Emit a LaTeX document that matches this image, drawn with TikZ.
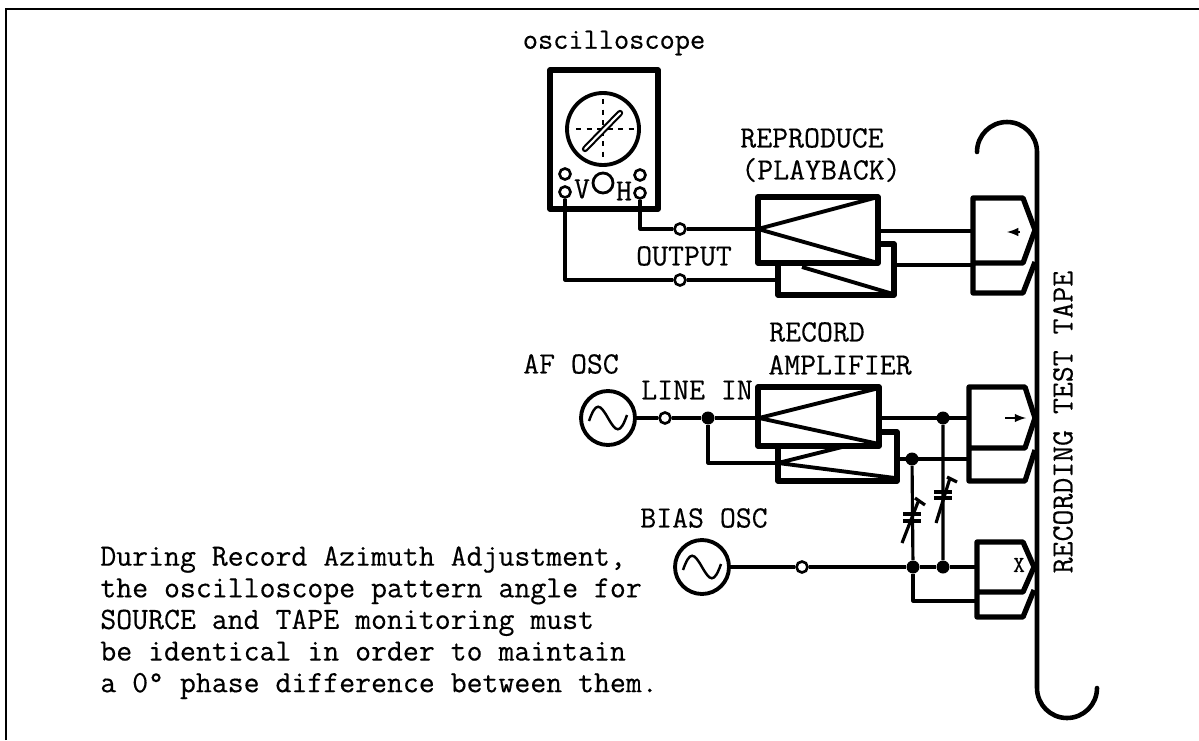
\documentclass[tikz,border=0pt]{standalone}
\usepackage{fontspec}
\setmonofont[FakeBold=.35]{Latin Modern Mono}
\tikzset{
  wire/.style={line width=1.8pt,line join=round},
  heavy/.style={line width=3pt,line join=round},
  term/.style={circle,draw,line width=1.5pt,fill=white,minimum size=.22cm,inner sep=0pt},
  dot/.style={circle,fill=black,minimum size=.26cm,inner sep=0pt},
  src/.style={circle,draw,line width=2.2pt,minimum size=1.08cm,inner sep=0pt},
  lab/.style={font=\fontsize{17.6}{18}\selectfont\ttfamily,inner sep=0pt},
}
\begin{document}
\begin{tikzpicture}[x=.02cm,y=-.02cm]
\useasboundingbox (0,0) rectangle (1199,740);
\draw[line width=1pt] (6,740)--(6,9)--(1199,9);
% oscilloscope
\draw[heavy] (550,70) rectangle (658,209);
\draw[line width=2.2pt] (603,129) circle (36);
\draw[dashed,line width=1pt] (603,99)--(603,159) (576,129)--(638,129);
\draw[line width=3.6pt,line cap=round] (585,149)--(620,113);
\draw[line width=1.2pt,white,line cap=round] (585,149)--(620,113);
\draw[line width=1.6pt] (603,183) circle (10);
\node[term] (sl) at (565,174) {}; \node[term] (vt) at (565,192) {};
\node[term] (sr) at (640,175) {}; \node[term] (ht) at (640,193) {};
\node[lab] (vlab) at (582,189) {V}; \node[lab] (hlab) at (624,191) {H};
\node[lab,font=\fontsize{16.8}{18}\selectfont\ttfamily] (sname) at (614,43) {oscilloscope};
% reproduce amplifier
\coordinate (ra) at (758,229); \coordinate (rb) at (778,280);
\draw[heavy] (878,244)--(894,244)--(894,295)--(778,295)--(778,263);
\draw[line width=2.2pt] (802,267)--(893,294);
\draw[heavy] (758,197) rectangle (878,263);
\draw[line width=2.2pt] (878,197)--(ra)--(878,263);
\node[term] (t1) at (680,229) {}; \node[term] (t2) at (680,280) {};
\draw[wire] (ht)--(640,229)--(t1)--(ra);
\draw[wire] (vt)--(565,280)--(t2)--(rb);
\node[lab] (rep1) at (812,138) {REPRODUCE};
\node[lab] (rep2) at (821,170) {(PLAYBACK)};
\node[lab] (out) at (684,256) {OUTPUT};
% record amplifier
\coordinate (ca) at (759,418); \coordinate (cb) at (778,463);
\draw[heavy] (879,432)--(897,432)--(897,481)--(778,481)--(778,446);
\draw[line width=2.2pt] (850,445)--(cb)--(895,478);
\draw[heavy] (758,387) rectangle (879,446);
\draw[line width=2.2pt] (879,388)--(ca)--(879,444);
\node[lab] (rec1) at (817,332) {RECORD};
\node[lab] (rec2) at (840,365) {AMPLIFIER};
\node[lab] (af) at (571,364) {AF OSC};
\node[lab] (line) at (697,390) {LINE IN};
\node[lab] (bo) at (704,518) {BIAS OSC};
% sources
\node[src] (afs) at (608,418) {};
\node[src] (bos) at (702,567) {};
\foreach \c in {afs,bos}
  \draw[line width=1.4pt] (\c.center) ++(-19,3) .. controls +(7,-20) and +(-8,-14) .. ++(19,-3) .. controls +(8,14) and +(-7,20) .. ++(19,-3);
\node[term] (t3) at (665,418) {}; \node[term] (t4) at (802,567) {};
\node[dot] (d1) at (708,418) {};
\node[dot] (d2) at (912,459) {}; \node[dot] (d3) at (943,418) {};
\node[dot] (d4) at (913,567) {}; \node[dot] (d5) at (943,567) {};
\draw[wire] (afs)--(t3)--(d1)--(ca);
\draw[wire] (d1)--(708,463)--(cb);
\draw[wire] (bos)--(t4)--(d4)--(d5);
% heads
\coordinate (h1) at (973,231); \coordinate (h2) at (973,265);
\coordinate (h3) at (969,418); \coordinate (h4) at (969,459);
\coordinate (h5) at (977,567); \coordinate (h6) at (977,601);
\draw[heavy] (973,263)--(973,198)--(1023,198)--(1035,230)--(1023,263)--(973,263)--(973,293)--(1023,293)--(1035,262);
\draw[heavy] (969,448)--(969,387)--(1025,387)--(1035,418)--(1025,448)--(969,448)--(969,481)--(1025,481)--(1035,450);
\draw[heavy] (977,592)--(977,542)--(1023,542)--(1034,567)--(1023,592)--(977,592)--(977,617)--(1023,617)--(1034,590);
\draw[wire] (878,231)--(h1) (894,265)--(h2);
\draw[wire] (879,418)--(h3) (897,459)--(h4);
\draw[wire] (d5)--(h5);
\draw[wire] (d4)--(913,601)--(h6);
\draw[wire] (d2)--(d4) (d3)--(d5);
\draw[-latex,line width=1.2pt] (1020,232)--(1007,232);
\draw[-latex,line width=1.2pt] (1005,418)--(1026,418);
\node[lab,font=\fontsize{13}{13}\selectfont\ttfamily] (xm) at (1019,565) {X};
% trimmers
\draw[line width=2pt] (903,514)--(921,514) (903,521)--(921,521);
\draw[line width=1.8pt] (902,543)--(918,502) (915,498)--(925,505);
\draw[line width=2pt] (934,492)--(952,492) (934,498)--(952,498);
\draw[line width=1.8pt] (936,523)--(950,478) (947,477)--(957,482);
% tape
\draw[line width=2.6pt,line cap=round] (977,152) arc (180:360:30)--(1037,688) arc (180:0:30);
\node[lab,rotate=90] (tape) at (1063,422) {RECORDING TEST TAPE};
% note
\node[lab,anchor=north west,align=left] (note) at (100,546) {During Record Azimuth Adjustment,\\the oscilloscope pattern angle for\\SOURCE and TAPE monitoring must\\be identical in order to maintain\\a 0° phase difference between them.};
\end{tikzpicture}
\end{document}
